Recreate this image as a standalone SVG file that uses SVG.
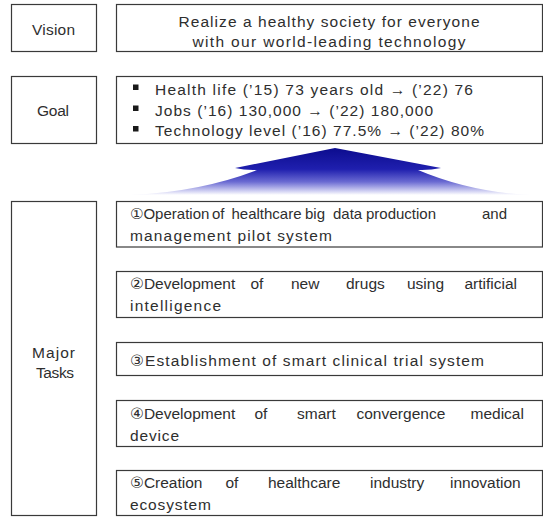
<svg xmlns="http://www.w3.org/2000/svg" width="543" height="518" viewBox="0 0 543 518">
  <defs>
    <style>
      .box { fill: #ffffff; stroke: #3a3a3a; stroke-width: 1.2; }
      .t { font-family: "Liberation Sans", "DejaVu Sans", sans-serif; font-size: 15.5px; fill: #2e2e2e; }
      .tight { font-size: 15px; }
      .c { text-anchor: middle; }
      .bullet { fill: #1a1a1a; }
    </style>
    <linearGradient id="arrowFill" x1="0" y1="0" x2="0" y2="1">
      <stop offset="0" stop-color="#0c0c8e"/>
      <stop offset="0.45" stop-color="#1f1fae"/>
      <stop offset="0.72" stop-color="#6a6ad2"/>
      <stop offset="0.9" stop-color="#c8c8f0"/>
      <stop offset="1" stop-color="#ffffff"/>
    </linearGradient>
  </defs>

  <!-- Vision row -->
  <g id="vision-label">
    <rect class="box" x="11.5" y="4.5" width="85" height="47"/>
    <text class="t c" x="53.5" y="35" textLength="43" lengthAdjust="spacing">Vision</text>
  </g>
  <g id="vision-text">
    <rect class="box" x="116.5" y="4.5" width="426" height="47"/>
    <text class="t c" x="329" y="26.5" textLength="301" lengthAdjust="spacing">Realize a healthy society for everyone</text>
    <text class="t c" x="329" y="47" textLength="273" lengthAdjust="spacing">with our world-leading technology</text>
  </g>

  <!-- Goal row -->
  <g id="goal-label">
    <rect class="box" x="11.5" y="76.5" width="85" height="67"/>
    <text class="t c" x="53" y="116" textLength="32" lengthAdjust="spacing">Goal</text>
  </g>
  <g id="goal-text">
    <rect class="box" x="116.5" y="76.5" width="426" height="67"/>
    <rect class="bullet" x="133" y="84.5" width="5.5" height="5.5"/>
    <rect class="bullet" x="133" y="105.5" width="5.5" height="5.5"/>
    <rect class="bullet" x="133" y="126" width="5.5" height="5.5"/>
    <text class="t" x="155" y="94.5" textLength="318" lengthAdjust="spacing">Health life (’15) 73 years old → (’22) 76</text>
    <text class="t" x="155" y="115.5" textLength="278" lengthAdjust="spacing">Jobs (’16) 130,000 → (’22) 180,000</text>
    <text class="t" x="155" y="136" textLength="329" lengthAdjust="spacing">Technology level (’16) 77.5% → (’22) 80%</text>
  </g>

  <!-- Upward arrow from tasks to goal -->
  <g id="connectors">
    <path d="M335,148 L441,168 Q430,170.5 418,170 Q470,192 530,195 L130,195 Q200,192 257,170 Q245,170.5 235,168 Z" fill="url(#arrowFill)"/>
  </g>

  <!-- Major tasks -->
  <g id="tasks-label">
    <rect class="box" x="11.5" y="201.5" width="85" height="314"/>
    <text class="t c" x="53.5" y="358" textLength="43" lengthAdjust="spacing">Major</text>
    <text class="t c" x="55" y="377.5" textLength="38" lengthAdjust="spacing">Tasks</text>
  </g>

  <g id="task-1">
    <rect class="box" x="116.5" y="201.5" width="426" height="45.5"/>
    <text class="t tight" y="219"><tspan x="130">①Operation</tspan><tspan x="212">of</tspan><tspan x="231.5">healthcare</tspan><tspan x="305">big</tspan><tspan x="333">data</tspan><tspan x="366">production</tspan><tspan x="482">and</tspan></text>
    <text class="t" x="130" y="241" textLength="202" lengthAdjust="spacing">management pilot system</text>
  </g>

  <g id="task-2">
    <rect class="box" x="116.5" y="271.5" width="426" height="46"/>
    <text class="t" y="289"><tspan x="130">②Development</tspan><tspan x="250.5">of</tspan><tspan x="291">new</tspan><tspan x="346">drugs</tspan><tspan x="407">using</tspan><tspan x="464.5">artificial</tspan></text>
    <text class="t" x="130" y="311" textLength="91" lengthAdjust="spacing">intelligence</text>
  </g>

  <g id="task-3">
    <rect class="box" x="116.5" y="342.5" width="426" height="33"/>
    <text class="t" x="130" y="366" textLength="354" lengthAdjust="spacing">③Establishment of smart clinical trial system</text>
  </g>

  <g id="task-4">
    <rect class="box" x="116.5" y="400.5" width="426" height="46"/>
    <text class="t" y="418.5"><tspan x="130">④Development</tspan><tspan x="254.5">of</tspan><tspan x="297">smart</tspan><tspan x="356.5">convergence</tspan><tspan x="470.5">medical</tspan></text>
    <text class="t" x="130" y="440.5" textLength="49" lengthAdjust="spacing">device</text>
  </g>

  <g id="task-5">
    <rect class="box" x="116.5" y="470.5" width="426" height="45"/>
    <text class="t" y="488"><tspan x="130">⑤Creation</tspan><tspan x="225.5">of</tspan><tspan x="268">healthcare</tspan><tspan x="370">industry</tspan><tspan x="450">innovation</tspan></text>
    <text class="t" x="130" y="510" textLength="81" lengthAdjust="spacing">ecosystem</text>
  </g>
</svg>
